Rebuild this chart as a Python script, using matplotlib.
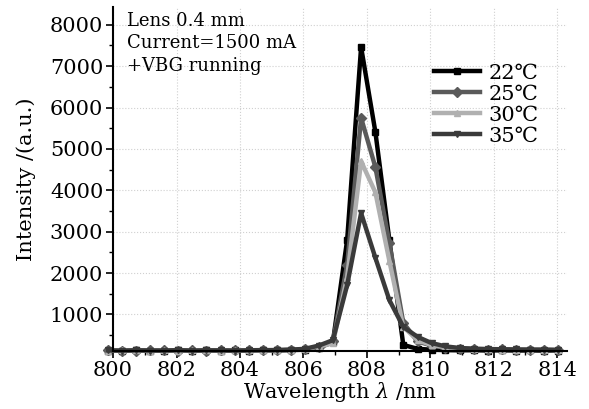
import matplotlib
matplotlib.use('Agg')
import matplotlib.pyplot as plt
from matplotlib.ticker import MultipleLocator

# serif text like the original figure (DejaVu Sans as fallback for the degree sign)
plt.rcParams['font.family'] = ['DejaVu Serif', 'DejaVu Sans']
plt.rcParams['mathtext.fontset'] = 'dejavuserif'

# wavelength points (nm)
wavelength = [799.84, 800.28, 800.73, 801.17, 801.61, 802.06, 802.50, 802.94,
              803.39, 803.83, 804.27, 804.72, 805.16, 805.60, 806.05, 806.49,
              806.93, 807.38, 807.82, 808.27, 808.71, 809.15, 809.60, 810.04,
              810.48, 810.93, 811.37, 811.81, 812.26, 812.70, 813.14, 813.59,
              814.03]

t22 = [130, 125, 135, 130, 128, 135, 130, 132, 128, 135, 130, 138, 135, 140, 150, 200,
       330, 2800, 7460, 5410, 2800, 265, 170, 150, 140, 135, 138, 130, 135, 130, 132, 128, 130]
t25 = [135, 130, 128, 135, 132, 130, 138, 130, 135, 132, 138, 135, 140, 145, 160, 220,
       350, 2200, 5750, 4560, 2730, 800, 350, 250, 200, 175, 160, 150, 155, 148, 150, 145, 140]
t30 = [128, 135, 132, 128, 135, 130, 132, 135, 130, 138, 135, 132, 140, 150, 165, 230,
       300, 1900, 4700, 3950, 2300, 700, 380, 260, 210, 180, 165, 155, 150, 150, 145, 148, 140]
t35 = [132, 128, 135, 130, 130, 138, 128, 135, 132, 130, 135, 140, 138, 150, 170, 250,
       380, 1710, 3450, 2370, 1350, 700, 460, 310, 230, 190, 175, 165, 160, 155, 150, 150, 145]

labels = ['22℃', '25℃', '30℃', '35℃']
series = [t22, t25, t30, t35]
colors = ['black', '#5a5a5a', '#b0b0b0', '#3a3a3a']
markers = ['s', 'D', '^', 'v']

fig = plt.figure(figsize=(5.89, 4.09), dpi=100)
ax = fig.add_axes([0.192, 0.142, 0.77, 0.841])

for y, lab, c, m in zip(series, labels, colors, markers):
    ax.plot(wavelength, y, color=c, linewidth=3.2, marker=m, markersize=5,
            label=lab, clip_on=False)

ax.set_xlim(800, 814.3)
ax.set_ylim(120, 8430)
ax.xaxis.set_major_locator(MultipleLocator(2))
ax.xaxis.set_minor_locator(MultipleLocator(1))
ax.set_yticks([1000, 2000, 3000, 4000, 5000, 6000, 7000, 8000])
ax.yaxis.set_minor_locator(MultipleLocator(500))
ax.tick_params(which='major', length=5, width=1.2, labelsize=15, direction='out', pad=2)
ax.tick_params(which='minor', length=3, width=1.0, direction='out')

ax.grid(True, which='major', linestyle=':', color='#d0d0d0', linewidth=0.8)
ax.set_axisbelow(True)

ax.spines['top'].set_visible(False)
ax.spines['right'].set_visible(False)
ax.spines['left'].set_linewidth(1.5)
ax.spines['bottom'].set_linewidth(1.5)

ax.set_xlabel(r'Wavelength $\lambda$ /nm', fontsize=15, labelpad=0)
ax.set_ylabel('Intensity /(a.u.)', fontsize=15, labelpad=10)

ax.text(0.03, 0.985, 'Lens 0.4 mm\nCurrent=1500 mA\n+VBG running',
        transform=ax.transAxes, fontsize=13, va='top', ha='left', linespacing=1.3)

leg = ax.legend(loc='upper left', bbox_to_anchor=(0.69, 0.86), frameon=False,
                fontsize=15, handlelength=2.2, handletextpad=0.4,
                labelspacing=0.1, borderaxespad=0)

fig.savefig('out.png', dpi=100)
